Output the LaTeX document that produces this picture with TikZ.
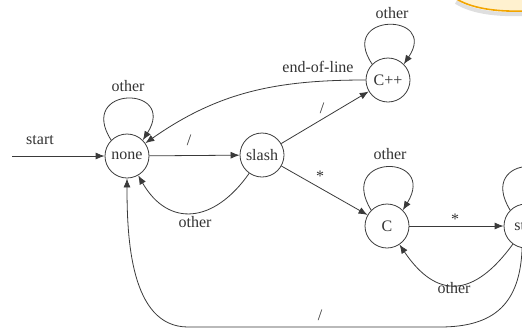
\documentclass[tikz,border=0pt]{standalone}
\usepackage{fontspec}
\setmainfont{Liberation Serif}
\usetikzlibrary{arrows.meta}
\definecolor{linec}{HTML}{3A3A3A}
\definecolor{textc}{HTML}{333333}
\definecolor{blobfill}{HTML}{FFF1CF}
\definecolor{blobline}{HTML}{F2A500}
\begin{document}
\begin{tikzpicture}[x=1pt,y=-1pt,
  state/.style={circle,draw=linec,line width=0.8pt,minimum size=44pt,inner sep=0pt,font=\fontsize{16}{18}\selectfont,text=textc},
  lbl/.style={inner sep=0pt,font=\fontsize{16}{18}\selectfont,text=textc},
  edge/.style={draw=linec,line width=0.8pt,-{Latex[length=9pt,width=7pt]}},
]
\clip (0,0) rectangle (522,330);
% decorative blob at the top right
\path[draw=gray,opacity=0.25,line width=4pt] (456,2) .. controls (472,12) and (496,15) .. (524,14);
\path[fill=blobfill,draw=blobline,line width=1.6pt] (455,-2) .. controls (470,8) and (495,12) .. (524,11) -- (524,-2) -- cycle;

% states
\node[state] (none)  at (127,156) {none};
\node[state] (slash) at (262,155) {slash};
\node[state] (cpp)   at (388,80)  {C++};
\node[state] (c)     at (387,226) {C};
\node[state] (star)  at (526,226) {star};
\coordinate (start) at (12,156);
\coordinate (b1) at (440,327);
\coordinate (b2) at (188,327);

% edges
\draw[edge] (start) -- (none);
\draw[edge] (none) -- (slash);
\draw[edge] (slash) -- (cpp);
\draw[edge] (slash) -- (c);
\draw[edge] (c) -- (star);
\draw[edge] (cpp.west) to[out=180,in=35] (none.35);
\draw[edge] (slash.235) to[out=235,in=-60,looseness=1.4] (none.-60);
\draw[edge] (star.234) to[out=234,in=-56,looseness=1.5] (c.-56);
\draw[edge] (star.-100) .. controls +(-2,55) and +(55,0) .. (b1) -- (b2) .. controls +(-58,0) and +(0,58) .. (none.south);

% self loops
\draw[edge] (none.135) .. controls +(-35,-55) and +(35,-55) .. (none.45);
\draw[edge] (cpp.135) .. controls +(-35,-52) and +(35,-52) .. (cpp.45);
\draw[edge] (c.135) .. controls +(-35,-57) and +(35,-57) .. (c.45);
\draw[edge] (star.135) .. controls +(-35,-57) and +(35,-57) .. (star.45);

% labels
\node[lbl] (lstart) at (40,140) {start};
\node[lbl] (lnone)  at (128,86) {other};
\node[lbl] (lns)    at (189,140) {/};
\node[lbl] (leol)   at (318,67) {end-of-line};
\node[lbl] (lsc)    at (322,108) {/};
\node[lbl] (lcpp)   at (392,13) {other};
\node[lbl] (lc)     at (390,154) {other};
\node[lbl] (lsC)    at (320,176) {*};
\node[lbl] (lcs)    at (455,219) {*};
\node[lbl] (lsco)   at (454,288) {other};
\node[lbl] (lsno)   at (195,222) {other};
\node[lbl] (lbot)   at (320,315) {/};
\end{tikzpicture}
\end{document}
